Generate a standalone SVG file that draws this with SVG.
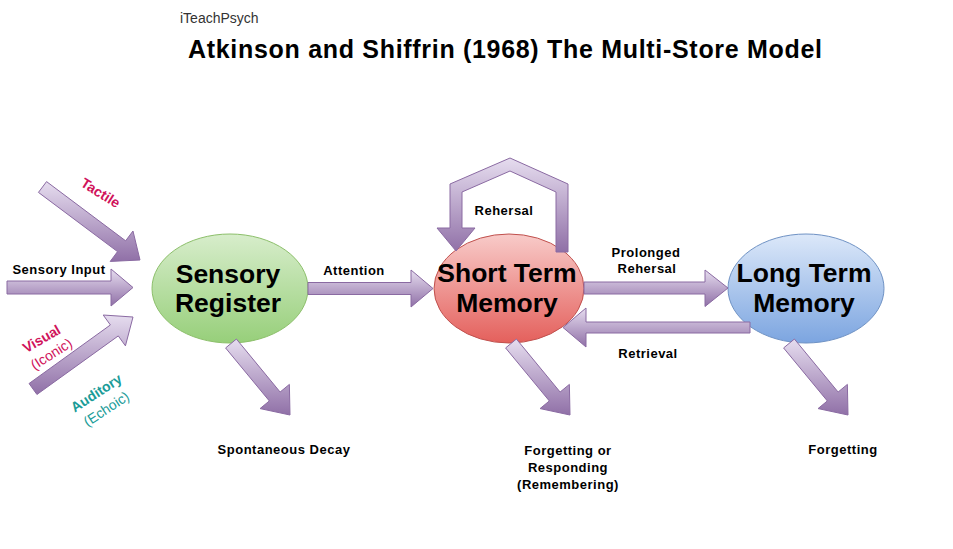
<svg xmlns="http://www.w3.org/2000/svg" width="953" height="549" viewBox="0 0 953 549">
<defs>
<linearGradient id="arr" x1="0" y1="0" x2="0" y2="1">
<stop offset="0" stop-color="#e6ddef"/>
<stop offset="1" stop-color="#9070a7"/>
</linearGradient>
<linearGradient id="gGreen" x1="0" y1="0" x2="0" y2="1">
<stop offset="0" stop-color="#d7edcb"/>
<stop offset="1" stop-color="#97cf7a"/>
</linearGradient>
<linearGradient id="gRed" x1="0" y1="0" x2="0" y2="1">
<stop offset="0" stop-color="#f8cbc9"/>
<stop offset="1" stop-color="#e4605c"/>
</linearGradient>
<linearGradient id="gBlue" x1="0" y1="0" x2="0" y2="1">
<stop offset="0" stop-color="#dce8f9"/>
<stop offset="1" stop-color="#7ca5e0"/>
</linearGradient>
</defs>
<style>
.arrow{fill:url(#arr);stroke:#8a6aa2;stroke-width:1;stroke-linejoin:miter}
.node{font-family:"Liberation Sans",Arial,sans-serif;font-weight:bold;font-size:26.5px;fill:#000;text-anchor:middle}
.lbl{font-family:"Liberation Sans",Arial,sans-serif;font-weight:bold;font-size:13px;fill:#000;text-anchor:middle;letter-spacing:0.5px}
.sense{font-family:"Liberation Sans",Arial,sans-serif;font-size:14px;text-anchor:middle}
.b{font-weight:bold}
.mag{fill:#d0135b}
.teal{fill:#1a9c98}
</style>
<rect width="953" height="549" fill="#fff"/>
<text x="180" y="23" font-family="Liberation Sans, Arial, sans-serif" font-size="14" fill="#333">iTeachPsych</text>
<text x="188" y="58" font-family="Liberation Sans, Arial, sans-serif" font-size="25" font-weight="bold" fill="#000" textLength="634" lengthAdjust="spacing">Atkinson and Shiffrin (1968) The Multi-Store Model</text>

<g id="sensory-register">
<ellipse cx="230" cy="288.5" rx="78" ry="54.5" fill="url(#gGreen)" stroke="#8cbf6a" stroke-width="1"/>
<text class="node" x="228" y="283">Sensory</text>
<text class="node" x="228" y="312">Register</text>
</g>
<g id="short-term-memory">
<ellipse cx="509" cy="288.5" rx="75" ry="54.5" fill="url(#gRed)" stroke="#c0504d" stroke-width="1"/>
<text class="node" x="507" y="282">Short Term</text>
<text class="node" x="507" y="312">Memory</text>
</g>
<g id="long-term-memory">
<ellipse cx="806" cy="288.5" rx="78" ry="54.5" fill="url(#gBlue)" stroke="#6f92c4" stroke-width="1"/>
<text class="node" x="804" y="282">Long Term</text>
<text class="node" x="804" y="312">Memory</text>
</g>

<g id="connectors">
<polygon class="arrow" points="38.45,192.4 117.54,251.62 110.2,261.43 140,260 132.98,231.01 125.64,240.82 46.55,181.6"/>
<polygon class="arrow" points="7,281 111,281 111,269 133,287.5 111,306 111,294 7,294"/>
<polygon class="arrow" points="36.94,394.48 118.27,335.92 125.43,345.86 133,317 103.23,315.02 110.39,324.96 29.06,383.52"/>
<polygon class="arrow" points="308,282.5 411,282.5 411,270 433,288.5 411,307 411,294.5 308,294.5"/>
<polygon class="arrow" points="225.6,347.96 269.32,400.95 260.07,408.58 290,415 289.37,384.4 280.12,392.03 236.4,339.04"/>
<polygon class="arrow" points="505.6,347.96 549.32,400.95 540.07,408.58 570,415 569.37,384.4 560.12,392.03 516.4,339.04"/>
<polygon class="arrow" points="783.6,347.96 827.32,400.95 818.07,408.58 848,415 847.37,384.4 838.12,392.03 794.4,339.04"/>
<polygon class="arrow" points="584,282 705,282 705,270 728,288 705,306.5 705,294 584,294"/>
<polygon class="arrow" points="750,322 586,322 586,308 563,327.5 586,347 586,333 750,333"/>
<path class="arrow" d="M437,228 L450,228 L450,184 L510,158 L568,184 L568,252 L556,252 L556,192 L510,171 L462,192 L462,228 L475,228 L456,251 Z"/>
</g>

<g id="labels">
<text class="lbl" x="59" y="274">Sensory Input</text>
<text class="lbl" x="354" y="275">Attention</text>
<text class="lbl" x="504" y="215">Rehersal</text>
<text class="lbl" x="646" y="257">Prolonged</text>
<text class="lbl" x="647" y="273">Rehersal</text>
<text class="lbl" x="648" y="358">Retrieval</text>
<text class="lbl" x="284" y="454">Spontaneous Decay</text>
<text class="lbl" x="568" y="455">Forgetting or</text>
<text class="lbl" x="568" y="472">Responding</text>
<text class="lbl" x="568" y="489">(Remembering)</text>
<text class="lbl" x="843" y="454">Forgetting</text>
<text class="sense mag b" transform="translate(98,197) rotate(32)">Tactile</text>
<text class="sense mag b" transform="translate(44,343) rotate(-30)">Visual</text>
<text class="sense mag" transform="translate(54,358) rotate(-32)">(Iconic)</text>
<text class="sense teal b" transform="translate(99,397) rotate(-33)">Auditory</text>
<text class="sense teal" transform="translate(109,413) rotate(-33)">(Echoic)</text>
</g>
</svg>
